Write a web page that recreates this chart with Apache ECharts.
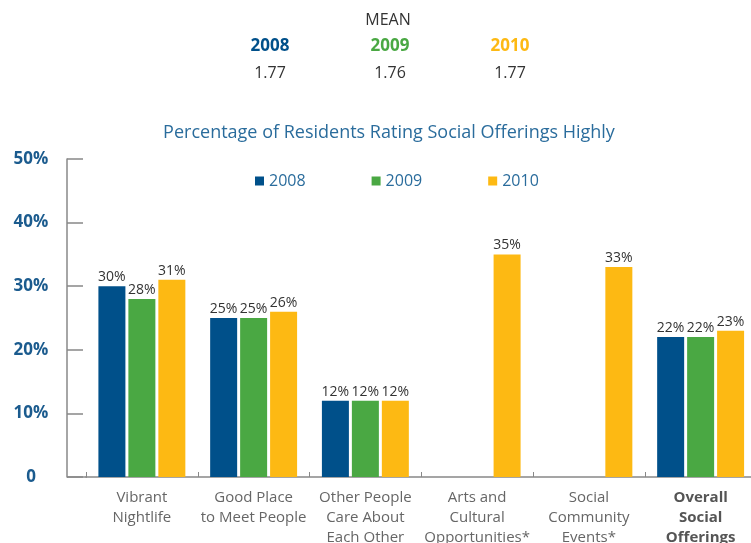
<!DOCTYPE html>
<html>
<head>
<meta charset="utf-8">
<script src="https://cdn.jsdelivr.net/npm/echarts@6/dist/echarts.min.js"></script>
<style>
  html, body { margin: 0; padding: 0; background: #fff; }
  #chart { width: 751px; height: 543px; }
</style>
</head>
<body>
<div id="chart"></div>
<script>
// data
const categories = [
  'Vibrant\nNightlife',
  'Good Place\nto Meet People',
  'Other People\nCare About\nEach Other',
  'Arts and\nCultural\nOpportunities*',
  'Social\nCommunity\nEvents*',
  'Overall\nSocial\nOfferings'
];
const years = ['2008', '2009', '2010'];
const values2008 = [30, 25, 12, null, null, 22];
const values2009 = [28, 25, 12, null, null, 22];
const values2010 = [31, 26, 12, 35, 33, 23];
const meanValues = ['1.77', '1.76', '1.77'];
const yTicks = [0, 10, 20, 30, 40, 50];

const colors = ['#00508a', '#4aa843', '#fdb913'];
const FONT = '"Open Sans", sans-serif';

const chart = echarts.init(document.getElementById('chart'));

// header block (mean scores)
const headerX = [270, 390, 510];
const header = [{
  type: 'text', x: 388, y: 12,
  style: { text: 'MEAN', font: '16px ' + FONT, fill: '#333', align: 'center' }
}];
years.forEach((y, i) => {
  header.push({
    type: 'text', x: headerX[i], y: 38,
    style: { text: y, font: 'bold 17px ' + FONT, fill: colors[i], align: 'center' }
  });
  header.push({
    type: 'text', x: headerX[i], y: 65,
    style: { text: meanValues[i], font: '16px ' + FONT, fill: '#333', align: 'center' }
  });
});
// small piece of x axis line left of the first category
header.push({
  type: 'line', shape: { x1: 67, y1: 477, x2: 87, y2: 477 },
  style: { stroke: '#888', lineWidth: 1.5 }
});

const seriesData = [values2008, values2009, values2010];

const option = {
  animation: false,
  textStyle: { fontFamily: FONT },
  title: {
    text: 'Percentage of Residents Rating Social Offerings Highly',
    left: 384, textAlign: 'center', top: 119,
    textStyle: { color: '#2a6c9c', fontSize: 18, fontWeight: 'normal', fontFamily: FONT }
  },
  legend: {
    data: years,
    left: 250, top: 168,
    itemWidth: 9, itemHeight: 9, itemGap: 66,
    icon: 'rect',
    textStyle: { color: '#2a6c9c', fontSize: 16, fontFamily: FONT }
  },
  grid: { left: 86, top: 159, width: 670.5, bottom: 66, outerBoundsMode: 'none', containLabel: false },
  xAxis: {
    type: 'category',
    data: categories,
    axisLine: { lineStyle: { color: '#888', width: 1.5 } },
    axisTick: { show: true, inside: true, length: 5, lineStyle: { color: '#888' } },
    axisLabel: {
      interval: 0, margin: 11, lineHeight: 20,
      color: '#666', fontSize: 15, fontFamily: FONT,
      formatter: (v, i) => i === categories.length - 1 ? '{b|' + v.split('\n').join('}\n{b|') + '}' : v,
      rich: { b: { fontWeight: 'bold', color: '#555', fontSize: 15, lineHeight: 20, fontFamily: FONT } }
    }
  },
  yAxis: {
    type: 'value',
    min: yTicks[0], max: yTicks[yTicks.length - 1], interval: 10,
    offset: 19,
    axisLine: { show: true, lineStyle: { color: '#888', width: 1.5 } },
    axisTick: { show: true, inside: true, length: 16, lineStyle: { color: '#888', width: 1.5 } },
    splitLine: { show: false },
    axisLabel: {
      margin: 36, align: 'center', padding: [6, 0, 0, 0],
      color: '#1b5b8e', fontSize: 17, fontWeight: 'bold', fontFamily: FONT,
      formatter: v => v === 0 ? '0' : v + '%'
    }
  },
  series: years.map((y, i) => ({
    name: y,
    type: 'bar',
    data: seriesData[i],
    barWidth: 27,
    barGap: '11%',
    itemStyle: { color: colors[i] },
    label: {
      show: true, position: 'top', distance: 2,
      color: '#333', fontSize: 14, fontFamily: FONT,
      formatter: p => p.value + '%'
    }
  })),
  graphic: header
};

chart.setOption(option);
</script>
</body>
</html>
